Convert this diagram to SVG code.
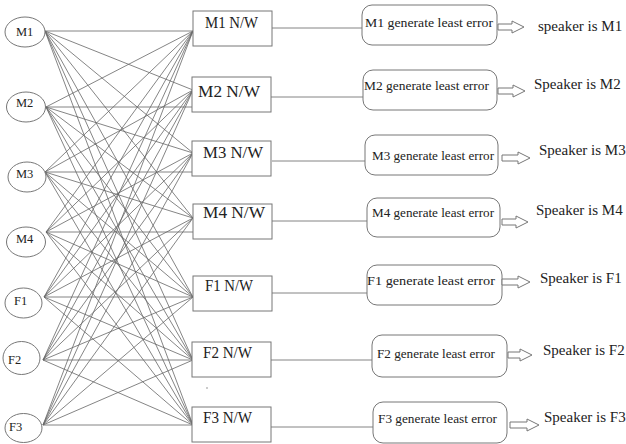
<svg xmlns="http://www.w3.org/2000/svg" width="626" height="444" viewBox="0 0 626 444">
<style>
text{font-family:"Liberation Serif","Times New Roman",serif;fill:#222}
.spk ellipse{fill:#fff;stroke:#777;stroke-width:1}
.spk text{font-size:12.5px}
.nw rect{fill:#fff;stroke:#777;stroke-width:1}
.nw text{font-size:16px}
.res rect{fill:#fff;stroke:#777;stroke-width:1}
.res text{font-size:13.5px}
.out path{fill:#fff;stroke:#777;stroke-width:1}
.out text{font-size:15px}
#connectors line{stroke:#666;stroke-width:0.8}
</style>
<g id="connectors">
<!-- M1 -->
<line x1="45" y1="31" x2="193" y2="31"/>
<line x1="45" y1="31" x2="193" y2="90"/>
<line x1="45" y1="31" x2="193" y2="153"/>
<line x1="45" y1="31" x2="193" y2="218"/>
<line x1="45" y1="31" x2="193" y2="297"/>
<line x1="45" y1="31" x2="193" y2="360"/>
<line x1="45" y1="31" x2="193" y2="425"/>
<!-- M2 -->
<line x1="46" y1="107" x2="193" y2="31"/>
<line x1="46" y1="107" x2="193" y2="107"/>
<line x1="46" y1="107" x2="193" y2="153"/>
<line x1="46" y1="107" x2="193" y2="218"/>
<line x1="46" y1="107" x2="193" y2="297"/>
<line x1="46" y1="107" x2="193" y2="360"/>
<line x1="46" y1="107" x2="193" y2="425"/>
<!-- M3 -->
<line x1="45" y1="172" x2="193" y2="31"/>
<line x1="45" y1="172" x2="193" y2="90"/>
<line x1="45" y1="172" x2="193" y2="172"/>
<line x1="45" y1="172" x2="193" y2="218"/>
<line x1="45" y1="172" x2="193" y2="297"/>
<line x1="45" y1="172" x2="193" y2="360"/>
<line x1="45" y1="172" x2="193" y2="425"/>
<!-- M4 -->
<line x1="46" y1="232" x2="193" y2="31"/>
<line x1="46" y1="232" x2="193" y2="90"/>
<line x1="46" y1="232" x2="193" y2="153"/>
<line x1="46" y1="232" x2="193" y2="232"/>
<line x1="46" y1="232" x2="193" y2="297"/>
<line x1="46" y1="232" x2="193" y2="360"/>
<line x1="46" y1="232" x2="193" y2="425"/>
<!-- F1 -->
<line x1="44" y1="297" x2="193" y2="31"/>
<line x1="44" y1="297" x2="193" y2="90"/>
<line x1="44" y1="297" x2="193" y2="153"/>
<line x1="44" y1="297" x2="193" y2="218"/>
<line x1="44" y1="297" x2="193" y2="297"/>
<line x1="44" y1="297" x2="193" y2="360"/>
<line x1="44" y1="297" x2="193" y2="425"/>
<!-- F2 -->
<line x1="43" y1="360" x2="193" y2="31"/>
<line x1="43" y1="360" x2="193" y2="90"/>
<line x1="43" y1="360" x2="193" y2="153"/>
<line x1="43" y1="360" x2="193" y2="218"/>
<line x1="43" y1="360" x2="193" y2="297"/>
<line x1="43" y1="360" x2="193" y2="360"/>
<line x1="43" y1="360" x2="193" y2="425"/>
<!-- F3 -->
<line x1="43" y1="425" x2="193" y2="31"/>
<line x1="43" y1="425" x2="193" y2="90"/>
<line x1="43" y1="425" x2="193" y2="153"/>
<line x1="43" y1="425" x2="193" y2="218"/>
<line x1="43" y1="425" x2="193" y2="297"/>
<line x1="43" y1="425" x2="193" y2="360"/>
<line x1="43" y1="425" x2="193" y2="425"/>
<!-- N/W to result -->
<line x1="272" y1="28" x2="362" y2="28"/>
<line x1="271" y1="97" x2="363" y2="97"/>
<line x1="272" y1="161" x2="365" y2="161"/>
<line x1="272" y1="221" x2="367" y2="221"/>
<line x1="272" y1="293" x2="367" y2="293"/>
<line x1="271" y1="360" x2="372" y2="360"/>
<line x1="271" y1="427" x2="373" y2="427"/>
</g>
<g id="speaker-M1" class="spk"><ellipse cx="25" cy="32" rx="20" ry="15"/><text x="16" y="36">M1</text></g>
<g id="speaker-M2" class="spk"><ellipse cx="26" cy="107" rx="19.5" ry="15"/><text x="16" y="107">M2</text></g>
<g id="speaker-M3" class="spk"><ellipse cx="27" cy="177" rx="19" ry="15"/><text x="16" y="178">M3</text></g>
<g id="speaker-M4" class="spk"><ellipse cx="26" cy="242" rx="19.5" ry="15"/><text x="16" y="243">M4</text></g>
<g id="speaker-F1" class="spk"><ellipse cx="23.5" cy="303" rx="18.5" ry="15"/><text x="14" y="305">F1</text></g>
<g id="speaker-F2" class="spk"><ellipse cx="21.5" cy="358" rx="18.5" ry="16.5"/><text x="8" y="364">F2</text></g>
<g id="speaker-F3" class="spk"><ellipse cx="23.5" cy="428" rx="18.5" ry="14.5"/><text x="9" y="431">F3</text></g>

<g id="nw-M1" class="nw"><rect x="193" y="11" width="79" height="35"/><text x="205" y="28" textLength="53" lengthAdjust="spacingAndGlyphs">M1 N/W</text></g>
<g id="nw-M2" class="nw"><rect x="192" y="77" width="79" height="35"/><text x="198" y="97" textLength="62" lengthAdjust="spacingAndGlyphs">M2 N/W</text></g>
<g id="nw-M3" class="nw"><rect x="192" y="141" width="79" height="35"/><text x="203" y="158" textLength="60" lengthAdjust="spacingAndGlyphs">M3 N/W</text></g>
<g id="nw-M4" class="nw"><rect x="193" y="204" width="79" height="35"/><text x="203" y="218" textLength="62" lengthAdjust="spacingAndGlyphs">M4 N/W</text></g>
<g id="nw-F1" class="nw"><rect x="193" y="276" width="79" height="35"/><text x="205" y="291" textLength="48" lengthAdjust="spacingAndGlyphs">F1 N/W</text></g>
<g id="nw-F2" class="nw"><rect x="192" y="342" width="79" height="35"/><text x="203" y="358" textLength="49" lengthAdjust="spacingAndGlyphs">F2 N/W</text></g>
<g id="nw-F3" class="nw"><rect x="192" y="407" width="79" height="35"/><text x="203" y="423" textLength="49" lengthAdjust="spacingAndGlyphs">F3 N/W</text></g>

<g id="res-M1" class="res"><rect x="362" y="5" width="135" height="40" rx="10"/><text x="365" y="27" textLength="128" lengthAdjust="spacingAndGlyphs">M1 generate least error</text></g>
<g id="res-M2" class="res"><rect x="363" y="70" width="134" height="40" rx="10"/><text x="364" y="90" textLength="125" lengthAdjust="spacingAndGlyphs">M2 generate least error</text></g>
<g id="res-M3" class="res"><rect x="365" y="135" width="133" height="40" rx="10"/><text x="372" y="160" textLength="122" lengthAdjust="spacingAndGlyphs">M3 generate least error</text></g>
<g id="res-M4" class="res"><rect x="367" y="198" width="133" height="39" rx="10"/><text x="372" y="217" textLength="122" lengthAdjust="spacingAndGlyphs">M4 generate least error</text></g>
<g id="res-F1" class="res"><rect x="367" y="265" width="135" height="40" rx="10"/><text x="367" y="285" textLength="128" lengthAdjust="spacingAndGlyphs">F1 generate least error</text></g>
<g id="res-F2" class="res"><rect x="372" y="335" width="135" height="42" rx="10"/><text x="377" y="358" textLength="118" lengthAdjust="spacingAndGlyphs">F2 generate least error</text></g>
<g id="res-F3" class="res"><rect x="373" y="402" width="134" height="41" rx="10"/><text x="378" y="423" textLength="119" lengthAdjust="spacingAndGlyphs">F3 generate least error</text></g>

<g id="out-M1" class="out"><path d="M498,24 H512 V21 L524,27 L512,33 V30 H498 Z"/><text x="538" y="31">speaker is M1</text></g>
<g id="out-M2" class="out"><path d="M498,88 H513 V85 L525,91 L513,97 V94 H498 Z"/><text x="534" y="89">Speaker is M2</text></g>
<g id="out-M3" class="out"><path d="M502,155 H518 V152 L530,158 L518,164 V161 H502 Z"/><text x="539" y="155">Speaker is M3</text></g>
<g id="out-M4" class="out"><path d="M502,219 H516 V216 L528,222 L516,228 V225 H502 Z"/><text x="536" y="215">Speaker is M4</text></g>
<g id="out-F1" class="out"><path d="M502,279 H518 V276 L530,282 L518,288 V285 H502 Z"/><text x="540" y="283">Speaker is F1</text></g>
<g id="out-F2" class="out"><path d="M508,352 H520 V349 L532,355 L520,361 V358 H508 Z"/><text x="543" y="355">Speaker is F2</text></g>
<g id="out-F3" class="out"><path d="M510,422 H527 V419 L539,425 L527,431 V428 H510 Z"/><text x="544" y="422">Speaker is F3</text></g>

<circle cx="207" cy="388" r="0.8" fill="#888"/>
</svg>
